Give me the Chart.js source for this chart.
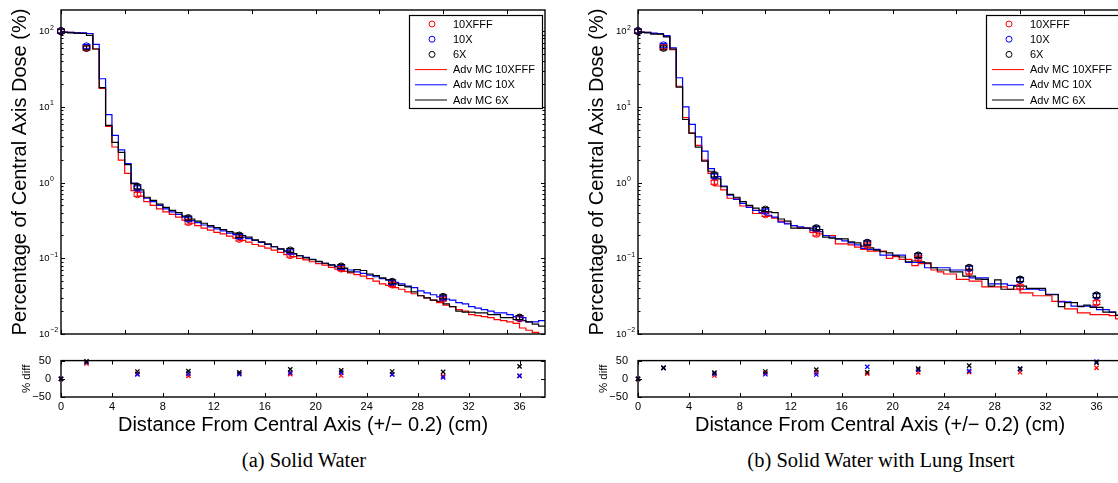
<!DOCTYPE html>
<html>
<head>
<meta charset="utf-8">
<script src="https://cdn.jsdelivr.net/npm/chart.js@4.4.0/dist/chart.umd.min.js"></script>
<style>
  html, body { margin: 0; padding: 0; background: #fff; overflow: hidden; width: 1118px; height: 483px; }
  canvas { position: absolute; }
  .caption { position: absolute; top: 449px; font-family: 'Liberation Serif', 'DejaVu Serif', serif; font-size: 20.5px; color: #000; white-space: nowrap; transform: translateX(-50%); }
</style>
</head>
<body>
<canvas id="mainA" width="560" height="340" style="left:0;top:0"></canvas>
<canvas id="diffA" width="560" height="100" style="left:0;top:344px"></canvas>
<canvas id="mainB" width="560" height="340" style="left:577px;top:0"></canvas>
<canvas id="diffB" width="560" height="100" style="left:577px;top:344px"></canvas>
<div class="caption" style="left:304px">(a) Solid Water</div>
<div class="caption" style="left:881px">(b) Solid Water with Lung Insert</div>
<script>
// ---- data ----
const beamNames = ['10XFFF', '10X', '6X'];
const beamColors = ['#ff0000', '#0000ff', '#000000'];
const binWidth = 0.5;
const binStart = Array.from({ length: 76 }, (_, i) => i * binWidth);

// Monte Carlo depth profiles, panel (a) solid water
const mcA_10XFFF = [97, 96, 94, 94, 93, 58, 17.5, 5.5, 2.95, 1.98,
  1.32, 0.78, 0.66, 0.56, 0.50, 0.45, 0.41, 0.38, 0.35, 0.32,
  0.29, 0.27, 0.25, 0.235, 0.22, 0.21, 0.196, 0.185, 0.172, 0.163,
  0.152, 0.145, 0.136, 0.128, 0.12, 0.112, 0.105, 0.1, 0.095, 0.09,
  0.085, 0.081, 0.076, 0.072, 0.067, 0.064, 0.061, 0.058, 0.054, 0.05,
  0.046, 0.044, 0.041, 0.039, 0.036, 0.034, 0.032, 0.03, 0.028, 0.026,
  0.024, 0.023, 0.021, 0.02, 0.018, 0.0175, 0.017, 0.0165, 0.0155, 0.015,
  0.0145, 0.0138, 0.012, 0.0112, 0.0105, 0.0098];
const mcA_10X = [97, 96, 95, 95, 93, 67, 23.5, 7.9, 4.2, 2.7,
  1.78, 0.98, 0.75, 0.62, 0.56, 0.50, 0.45, 0.41, 0.38, 0.35,
  0.315, 0.295, 0.275, 0.26, 0.245, 0.23, 0.215, 0.205, 0.19, 0.182,
  0.172, 0.162, 0.152, 0.142, 0.132, 0.122, 0.114, 0.108, 0.103, 0.097,
  0.09, 0.086, 0.081, 0.077, 0.073, 0.07, 0.066, 0.063, 0.06, 0.057,
  0.054, 0.052, 0.048, 0.046, 0.043, 0.041, 0.037, 0.035, 0.033, 0.031,
  0.029, 0.028, 0.026, 0.025, 0.023, 0.022, 0.021, 0.02, 0.019, 0.019,
  0.018, 0.017, 0.0165, 0.0145, 0.0145, 0.015];
const mcA_6X = [96, 95, 94, 93, 88, 58, 17.9, 5.7, 3.4, 2.5,
  1.72, 0.97, 0.80, 0.64, 0.58, 0.52, 0.47, 0.43, 0.40, 0.36,
  0.33, 0.31, 0.29, 0.27, 0.255, 0.24, 0.225, 0.215, 0.20, 0.19,
  0.175, 0.165, 0.155, 0.142, 0.133, 0.125, 0.115, 0.108, 0.101, 0.096,
  0.091, 0.086, 0.082, 0.078, 0.074, 0.066, 0.071, 0.069, 0.062, 0.059,
  0.055, 0.052, 0.046, 0.044, 0.042, 0.036, 0.032, 0.030, 0.028, 0.027,
  0.025, 0.023, 0.020, 0.0195, 0.0195, 0.019, 0.019, 0.018, 0.018, 0.0165,
  0.0165, 0.0155, 0.015, 0.0145, 0.0135, 0.0127];

// Monte Carlo depth profiles, panel (b) with lung insert
const mcB_10XFFF = [97, 96, 93, 92, 86, 57, 18.7, 7.2, 4.5, 3.1,
  1.98, 1.32, 0.9, 0.8, 0.62, 0.62, 0.49, 0.49, 0.39, 0.39,
  0.36, 0.34, 0.31, 0.29, 0.27, 0.25, 0.25, 0.22, 0.21, 0.2,
  0.2, 0.155, 0.155, 0.15, 0.14, 0.131, 0.124, 0.124, 0.124, 0.1,
  0.105, 0.0965, 0.0965, 0.08, 0.085, 0.085, 0.07, 0.066, 0.062, 0.062,
  0.0525, 0.0525, 0.05, 0.05, 0.042, 0.042, 0.042, 0.042, 0.039, 0.039,
  0.035, 0.035, 0.032, 0.032, 0.032, 0.027, 0.027, 0.0215, 0.0215, 0.019,
  0.019, 0.018, 0.018, 0.018, 0.0175, 0.0158];
const mcB_10X = [97, 96, 94, 93, 87, 60, 24.2, 10, 5.85, 4.0,
  2.6, 1.53, 1.2, 0.9, 0.68, 0.6, 0.53, 0.47, 0.43, 0.40,
  0.37, 0.35, 0.30, 0.285, 0.27, 0.26, 0.25, 0.235, 0.225, 0.2,
  0.19, 0.18, 0.17, 0.16, 0.15, 0.135, 0.131, 0.131, 0.11, 0.11,
  0.11, 0.11, 0.088, 0.088, 0.088, 0.075, 0.075, 0.075, 0.075, 0.07,
  0.07, 0.07, 0.055, 0.055, 0.055, 0.046, 0.046, 0.046, 0.044, 0.044,
  0.039, 0.039, 0.039, 0.038, 0.0335, 0.0335, 0.0265, 0.0265, 0.0233, 0.0233,
  0.0233, 0.0233, 0.021, 0.021, 0.0195, 0.0176];
const mcB_6X = [96, 95, 91, 91, 84, 58, 18.2, 6.8, 4.5, 2.94,
  1.92, 1.41, 1.12, 0.88, 0.70, 0.64, 0.56, 0.50, 0.46, 0.43,
  0.41, 0.40, 0.33, 0.31, 0.25, 0.25, 0.25, 0.25, 0.24, 0.19,
  0.185, 0.18, 0.18, 0.165, 0.16, 0.145, 0.137, 0.128, 0.122, 0.118,
  0.108, 0.104, 0.09, 0.092, 0.09, 0.087, 0.075, 0.07, 0.07, 0.066,
  0.066, 0.058, 0.058, 0.053, 0.0525, 0.043, 0.052, 0.039, 0.039, 0.043,
  0.043, 0.04, 0.04, 0.04, 0.033, 0.033, 0.023, 0.026, 0.026, 0.023,
  0.024, 0.0225, 0.0225, 0.0195, 0.0195, 0.0176];

// measured points, with error bars
const measX = [0, 2, 6, 10, 14, 18, 22, 26, 30, 36];
const measA_10XFFF = [100, 60, 0.70, 0.30, 0.18, 0.11, 0.073, 0.045, 0.029, 0.016];
const measA_10X = [100, 63, 0.85, 0.33, 0.195, 0.122, 0.076, 0.048, 0.030, 0.0163];
const measA_6X = [100, 60, 0.88, 0.34, 0.20, 0.127, 0.078, 0.049, 0.031, 0.0165];
const measB_10XFFF = [100, 62, 1.01, 0.38, 0.21, 0.15, 0.10, 0.066, 0.042, 0.026];
const measB_10X = [100, 65, 1.22, 0.42, 0.245, 0.16, 0.108, 0.074, 0.052, 0.032];
const measB_6X = [100, 60, 1.26, 0.44, 0.25, 0.16, 0.109, 0.075, 0.0525, 0.0324];
const measErr = 0.06;

// % difference
const diffA_10XFFF = [0, 42, 14, 8, 14, 13, 9, 12, 7.5, 8];
const diffA_10X = [0, 46, 12, 14, 13, 17, 17, 12, 4, 8];
const diffA_6X = [0, 48, 20, 21, 18, 26, 23, 20, 19, 34];
const diffB_10XFFF = [0, 30, 9, 16, 17.5, 14, 17.5, 18, 18, 30];
const diffB_10X = [0, 30, 14, 12.5, 11.7, 33, 25, 21.7, 26.7, 47];
const diffB_6X = [0, 30, 17, 20, 25, 18, 28, 36, 28, 44];

// axes
const xMax = 38;
const mainXTicks = [0, 5, 10, 15, 20, 25, 30, 35];
const diffXTicks = [0, 4, 8, 12, 16, 20, 24, 28, 32, 36];
const yMin = 0.01, yMax = 190;
const yMajor = [0.01, 0.1, 1, 10, 100];
const diffYTicks = [-50, 0, 50];
const legendLabels = ['10XFFF', '10X', '6X', 'Adv MC 10XFFF', 'Adv MC 10X', 'Adv MC 6X'];

const FONT = "'Liberation Sans', Arial, Helvetica, sans-serif";
const yMinor = yMajor.flatMap(d => [2, 3, 4, 5, 6, 7, 8, 9].map(m => m * d)).filter(v => v < yMax);

// ---- helpers ----
function stairs(values) {
  const pts = values.map((v, i) => ({ x: binStart[i], y: v }));
  pts.push({ x: binStart[binStart.length - 1] + binWidth, y: values[values.length - 1] });
  return pts;
}
function points(ys) {
  return measX.map((x, i) => ({ x: x, y: ys[i] }));
}

// MATLAB-style box with inward ticks
const matlabAxes = {
  id: 'matlabAxes',
  afterDatasetsDraw(chart, args, opts) {
    const { ctx, chartArea: a } = chart;
    const x = chart.scales.x, y = chart.scales.y;
    ctx.save();
    ctx.strokeStyle = '#000';
    ctx.lineWidth = 1;
    ctx.beginPath();
    opts.xTicks.forEach(v => {
      const px = Math.round(x.getPixelForValue(v)) + 0.5;
      ctx.moveTo(px, a.bottom); ctx.lineTo(px, a.bottom - 4);
      ctx.moveTo(px, a.top); ctx.lineTo(px, a.top + 4);
    });
    opts.yTicks.forEach(v => {
      const py = Math.round(y.getPixelForValue(v)) + 0.5;
      ctx.moveTo(a.left, py); ctx.lineTo(a.left + 4, py);
      ctx.moveTo(a.right, py); ctx.lineTo(a.right - 4, py);
    });
    (opts.yMinor || []).forEach(v => {
      const py = Math.round(y.getPixelForValue(v)) + 0.5;
      ctx.moveTo(a.left, py); ctx.lineTo(a.left + 2.5, py);
      ctx.moveTo(a.right, py); ctx.lineTo(a.right - 2.5, py);
    });
    ctx.stroke();
    ctx.lineWidth = 1.4;
    ctx.strokeRect(a.left, a.top, a.right - a.left, a.bottom - a.top);
    ctx.restore();
  }
};

// vertical error bars on the measured circles
const errorBars = {
  id: 'errorBars',
  afterDatasetsDraw(chart) {
    const { ctx } = chart;
    const x = chart.scales.x, y = chart.scales.y;
    ctx.save();
    ctx.lineWidth = 1;
    chart.data.datasets.forEach(ds => {
      if (!ds.errFrac) return;
      ctx.strokeStyle = ds.pointBorderColor;
      ctx.beginPath();
      ds.data.forEach(p => {
        const px = x.getPixelForValue(p.x);
        const lo = y.getPixelForValue(p.y * (1 - ds.errFrac));
        const hi = y.getPixelForValue(p.y * (1 + ds.errFrac));
        ctx.moveTo(px, lo); ctx.lineTo(px, hi);
        ctx.moveTo(px - 4, lo); ctx.lineTo(px + 4, lo);
        ctx.moveTo(px - 4, hi); ctx.lineTo(px + 4, hi);
      });
      ctx.stroke();
    });
    ctx.restore();
  }
};

// 10^n labels on the log axis
const powerLabels = {
  id: 'powerLabels',
  afterDraw(chart, args, opts) {
    const { ctx, chartArea: a } = chart;
    const y = chart.scales.y;
    ctx.save();
    ctx.fillStyle = '#000';
    ctx.textBaseline = 'middle';
    ctx.textAlign = 'left';
    opts.values.forEach(v => {
      const py = y.getPixelForValue(v);
      const e = Math.round(Math.log10(v));
      const x0 = a.left - 22;
      ctx.font = '9.5px ' + FONT;
      ctx.fillText('10', x0, py + 0.5);
      const w = ctx.measureText('10').width;
      ctx.font = '7px ' + FONT;
      ctx.fillText(e < 0 ? '\u2212' + (-e) : String(e), x0 + w + 0.5, py - 3.5);
    });
    ctx.restore();
  }
};

// boxed legend in the upper right corner
const boxLegend = {
  id: 'boxLegend',
  afterDraw(chart) {
    const { ctx, chartArea: a } = chart;
    const w = 133, h = 93;
    const left = Math.round(a.right - 3 - w), top = Math.round(a.top + 5);
    ctx.save();
    ctx.fillStyle = '#fff';
    ctx.fillRect(left, top, w, h);
    ctx.strokeStyle = '#000';
    ctx.lineWidth = 1.2;
    ctx.strokeRect(left + 0.5, top + 0.5, w, h);
    ctx.font = '11px ' + FONT;
    ctx.textBaseline = 'middle';
    ctx.textAlign = 'left';
    legendLabels.forEach((label, i) => {
      const ry = top + 9 + i * 15.2;
      const col = beamColors[i % 3];
      ctx.strokeStyle = col;
      ctx.lineWidth = 1;
      ctx.beginPath();
      if (i < 3) {
        ctx.arc(left + 23, ry, 3, 0, Math.PI * 2);
      } else {
        ctx.moveTo(left + 6, ry); ctx.lineTo(left + 38, ry);
      }
      ctx.stroke();
      ctx.fillStyle = '#000';
      ctx.fillText(label, left + 44, ry + 0.5);
    });
    ctx.restore();
  }
};

function mainChart(id, mc, meas) {
  const datasets = [];
  mc.forEach((vals, k) => datasets.push({
    label: 'Adv MC ' + beamNames[k],
    data: stairs(vals),
    stepped: 'before',
    borderColor: beamColors[k],
    borderWidth: 1.2,
    pointRadius: 0,
    fill: false,
    order: 12 - k,
    clip: 0
  }));
  meas.forEach((vals, k) => datasets.push({
    label: beamNames[k],
    data: points(vals),
    showLine: false,
    pointStyle: 'circle',
    pointRadius: 3.5,
    pointBorderWidth: 1,
    pointBorderColor: beamColors[k],
    pointBackgroundColor: 'rgba(0,0,0,0)',
    borderColor: beamColors[k],
    order: 5 - k,
    clip: false,
    errFrac: measErr
  }));

  return new Chart(document.getElementById(id), {
    type: 'line',
    data: { datasets },
    options: {
      responsive: false,
      animation: false,
      events: [],
      layout: { padding: { top: 10, right: 15, left: 0, bottom: 0 } },
      plugins: {
        legend: { display: false },
        tooltip: { enabled: false },
        matlabAxes: { xTicks: mainXTicks, yTicks: yMajor, yMinor: yMinor },
        powerLabels: { values: yMajor }
      },
      scales: {
        x: {
          type: 'linear', min: 0, max: xMax,
          afterBuildTicks: ax => { ax.ticks = mainXTicks.map(v => ({ value: v })); },
          afterFit: ax => { ax.height = 6; },
          grid: { display: false },
          border: { display: false },
          ticks: { display: false }
        },
        y: {
          type: 'logarithmic', min: yMin, max: yMax,
          afterBuildTicks: ax => { ax.ticks = yMajor.map(v => ({ value: v, major: true })); },
          afterFit: ax => { ax.width = 61; },
          grid: { display: false },
          border: { display: false },
          ticks: { display: false },
          title: {
            display: true,
            text: 'Percentage of Central Axis Dose (%)',
            color: '#000',
            font: { family: FONT, size: 20 },
            padding: { top: 8, bottom: 0 }
          }
        }
      }
    },
    plugins: [matlabAxes, errorBars, powerLabels, boxLegend]
  });
}

function diffChart(id, diffs) {
  const datasets = diffs.map((vals, k) => ({
    label: beamNames[k],
    data: points(vals),
    showLine: false,
    pointStyle: 'crossRot',
    pointRadius: 3,
    pointBorderWidth: 1.3,
    pointBorderColor: beamColors[k],
    borderColor: beamColors[k],
    order: 3 - k,
    clip: false
  }));

  return new Chart(document.getElementById(id), {
    type: 'line',
    data: { datasets },
    options: {
      responsive: false,
      animation: false,
      events: [],
      layout: { padding: { top: 10, right: 15, left: 0, bottom: 0 } },
      plugins: {
        legend: { display: false },
        tooltip: { enabled: false },
        matlabAxes: { xTicks: diffXTicks, yTicks: diffYTicks }
      },
      scales: {
        x: {
          type: 'linear', min: 0, max: xMax,
          afterBuildTicks: ax => { ax.ticks = diffXTicks.map(v => ({ value: v })); },
          afterFit: ax => { ax.height = 47; },
          grid: { display: false, drawTicks: false },
          border: { display: false },
          ticks: { color: '#000', font: { family: FONT, size: 11 }, padding: 3, maxRotation: 0 },
          title: {
            display: true,
            text: 'Distance From Central Axis (+/\u2212 0.2) (cm)',
            color: '#000',
            font: { family: FONT, size: 20 },
            padding: { top: 0, bottom: 6.5 }
          }
        },
        y: {
          type: 'linear', min: -50, max: 50,
          afterBuildTicks: ax => { ax.ticks = diffYTicks.map(v => ({ value: v })); },
          afterFit: ax => { ax.width = 61; },
          grid: { display: false, drawTicks: false },
          border: { display: false },
          ticks: {
            color: '#000', font: { family: FONT, size: 11 }, padding: 10,
            callback: v => (v < 0 ? '\u2212' + Math.abs(v) : String(v))
          },
          title: {
            display: true,
            text: '% diff',
            color: '#000',
            font: { family: FONT, size: 11.5 },
            padding: { top: 20, bottom: 0 }
          }
        }
      }
    },
    plugins: [matlabAxes]
  });
}

mainChart('mainA', [mcA_10XFFF, mcA_10X, mcA_6X], [measA_10XFFF, measA_10X, measA_6X]);
diffChart('diffA', [diffA_10XFFF, diffA_10X, diffA_6X]);
mainChart('mainB', [mcB_10XFFF, mcB_10X, mcB_6X], [measB_10XFFF, measB_10X, measB_6X]);
diffChart('diffB', [diffB_10XFFF, diffB_10X, diffB_6X]);
</script>
</body>
</html>
